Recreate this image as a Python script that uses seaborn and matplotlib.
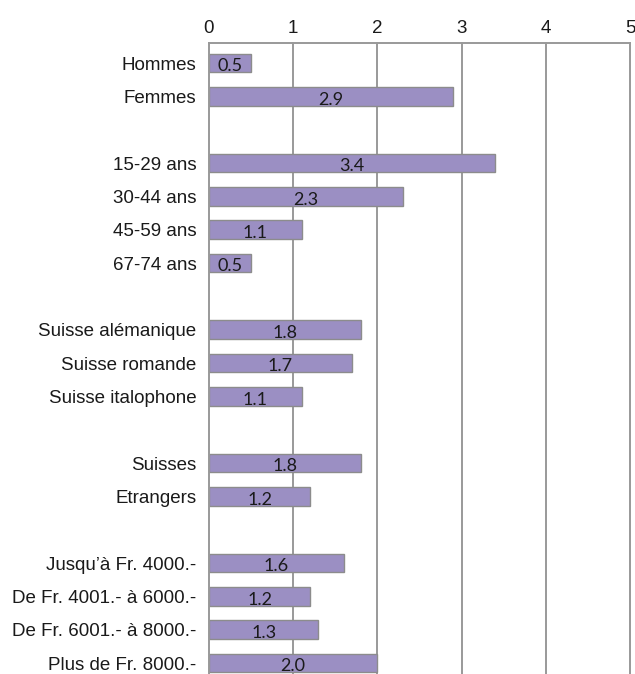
import matplotlib
matplotlib.use("Agg")
import matplotlib.pyplot as plt
import seaborn as sns
import pandas as pd

# Groups of categories with their values (blank spacer rows between groups)
sexe = ["Hommes", "Femmes"]
sexe_vals = [0.5, 2.9]
age = ["15-29 ans", "30-44 ans", "45-59 ans", "67-74 ans"]
age_vals = [3.4, 2.3, 1.1, 0.5]
region = ["Suisse alémanique", "Suisse romande", "Suisse italophone"]
region_vals = [1.8, 1.7, 1.1]
nationalite = ["Suisses", "Etrangers"]
nationalite_vals = [1.8, 1.2]
revenu = ["Jusqu\u2019à Fr. 4000.-", "De Fr. 4001.- à 6000.-",
          "De Fr. 6001.- à 8000.-", "Plus de Fr. 8000.-"]
revenu_vals = [1.6, 1.2, 1.3, 2.0]

groups = [(sexe, sexe_vals), (age, age_vals), (region, region_vals),
          (nationalite, nationalite_vals), (revenu, revenu_vals)]

order, cats, vals = [], [], []
for i, (c, v) in enumerate(groups):
    if i > 0:
        order.append(" " * i)  # spacer row
    order.extend(c)
    cats.extend(c)
    vals.extend(v)

df = pd.DataFrame({"categorie": cats, "valeur": vals})

sns.set_style("white")
plt.rcParams["font.family"] = ["Liberation Sans", "DejaVu Sans"]

fig = plt.figure(figsize=(6.35, 6.74), dpi=100)
ax = fig.add_axes([209 / 635, 0.0, (630 - 209) / 635, 1 - 43 / 674])

grid_col = "#999999"
ax.set_axisbelow(True)
for x in range(1, 6):
    ax.axvline(x, color=grid_col, lw=1.4, zorder=0, clip_on=False)

sns.barplot(data=df, x="valeur", y="categorie", order=order, orient="h",
            color="#9b8fc3", saturation=1, width=0.56,
            edgecolor="#8c8c8c", linewidth=1.0, ax=ax, zorder=2)

ax.set_xlim(0, 5)
ax.set_ylim(18.33, -0.6)
ax.xaxis.tick_top()
ax.set_xticks(range(0, 6))
ax.set_xticklabels([str(i) for i in range(6)], fontsize=13.5)
ax.tick_params(axis="x", length=0, pad=4, colors="#1a1a1a")
ax.tick_params(axis="y", length=0, pad=9, labelsize=13.5, colors="#1a1a1a")
ax.set_yticks(range(len(order)))
ax.set_yticklabels([o if o.strip() else "" for o in order])
ax.set_xlabel("")
ax.set_ylabel("")

for side in ["right", "bottom"]:
    ax.spines[side].set_visible(False)
for side in ["left", "top"]:
    ax.spines[side].set_color(grid_col)
    ax.spines[side].set_linewidth(1.4)

pos = {name: i for i, name in enumerate(order)}
for c, v in zip(cats, vals):
    ax.text(v / 2, pos[c] + 0.25, f"{v:.1f}", ha="center", va="baseline",
            fontsize=13, family=["Lato", "DejaVu Sans"], color="#1a1a1a",
            zorder=3)

fig.savefig("out.png", dpi=100)
